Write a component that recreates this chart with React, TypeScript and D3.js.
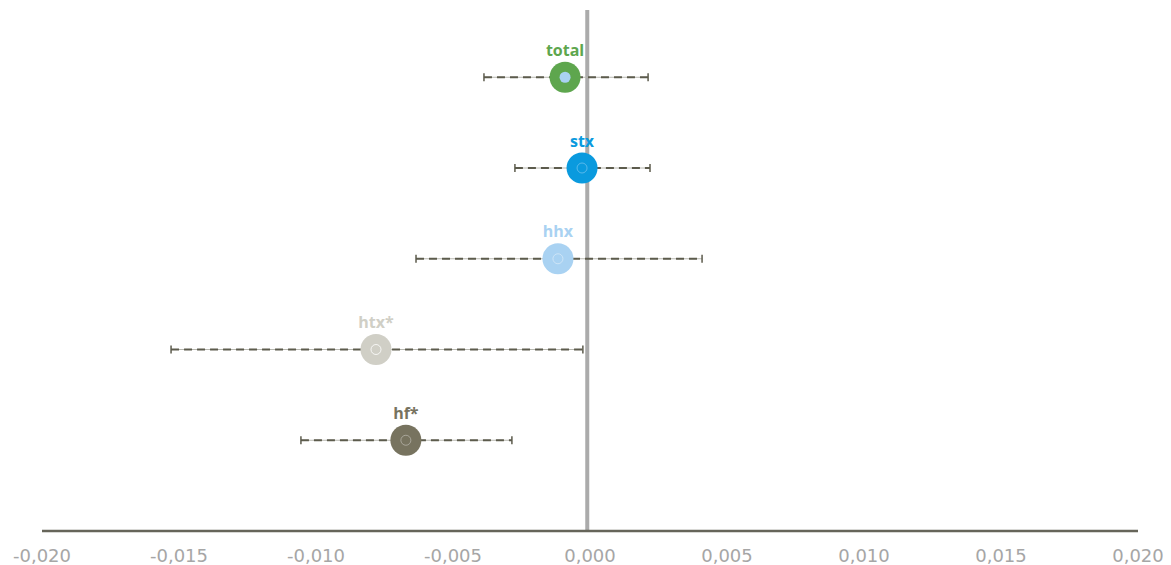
import React from "react";
import * as d3 from "d3";

const categories = ["total", "stx", "hhx", "htx*", "hf*"];
const estimates = [-0.00091, -0.00029, -0.00117, -0.00781, -0.00672];
const lowerCI = [-0.00387, -0.00274, -0.00635, -0.01529, -0.01055];
const upperCI = [0.00212, 0.00219, 0.00409, -0.00026, -0.00285];
const colors = ["#5ea64e", "#0a9ade", "#a9d2f2", "#d0cfc6", "#77735f"];
const innerColors = ["#a9d2f2", "#6cc0ee", "#d6e9f8", "#ffffff", "#b5b3a8"];
const innerFilled = [true, false, false, false, false];
const xTicks = [-0.02, -0.015, -0.01, -0.005, 0, 0.005, 0.01, 0.015, 0.02];
const refValue = -0.0001;

const W = 1171;
const H = 565;

export default function App() {
  const x = d3.scaleLinear().domain([-0.02, 0.02]).range([42, 1138]);
  const y = d3.scaleLinear().domain([0, 6]).range([531, -13.5]);
  const pos = (i: number) => categories.length - i;
  const fmt = (v: number) => d3.format(".3f")(v).replace("−", "-").replace(".", ",");
  const axisY = y(0);

  return (
    <svg width={W} height={H} style={{ position: "absolute", left: 0, top: 0 }}>
      <rect width={W} height={H} fill="#fff" />
      {/* reference line */}
      <line x1={x(refValue)} x2={x(refValue)} y1={10} y2={axisY} stroke="#ababab" strokeWidth={4} />
      {/* error bars */}
      {categories.map((c, i) => {
        const cy = y(pos(i));
        return (
          <g key={"e" + c}>
            <line x1={x(lowerCI[i])} x2={x(upperCI[i])} y1={cy} y2={cy} stroke="#b8b8b0" strokeWidth={1} />
            <line x1={x(lowerCI[i])} x2={x(upperCI[i])} y1={cy} y2={cy} stroke="#5c5b4c" strokeWidth={2} strokeDasharray="8,5" />
            <line x1={x(lowerCI[i])} x2={x(lowerCI[i])} y1={cy - 4} y2={cy + 4} stroke="#5c5b4c" strokeWidth={1.5} />
            <line x1={x(upperCI[i])} x2={x(upperCI[i])} y1={cy - 4} y2={cy + 4} stroke="#5c5b4c" strokeWidth={1.5} />
          </g>
        );
      })}
      {/* markers */}
      {categories.map((c, i) => {
        const cy = y(pos(i));
        const cx = x(estimates[i]);
        return (
          <g key={"m" + c}>
            <circle cx={cx} cy={cy} r={15.5} fill={colors[i]} />
            {innerFilled[i] ? (
              <circle cx={cx} cy={cy} r={5.5} fill={innerColors[i]} />
            ) : (
              <circle cx={cx} cy={cy} r={5} fill="none" stroke={innerColors[i]} strokeWidth={0.8} />
            )}
            <text
              x={cx}
              y={cy - 21.5}
              textAnchor="middle"
              fontFamily="'Open Sans', Lato, sans-serif"
              fontWeight={700}
              fontSize={16}
              fill={colors[i]}
            >
              {c}
            </text>
          </g>
        );
      })}
      {/* x axis */}
      <line x1={x(-0.02)} x2={x(0.02)} y1={axisY} y2={axisY} stroke="#66655a" strokeWidth={2.5} />
      {xTicks.map((t) => (
        <text
          key={t}
          x={x(t)}
          y={axisY + 31}
          textAnchor="middle"
          fontFamily="'DejaVu Sans', Verdana, sans-serif"
          fontSize={18}
          fill="#a6a6a6"
        >
          {fmt(t)}
        </text>
      ))}
    </svg>
  );
}
